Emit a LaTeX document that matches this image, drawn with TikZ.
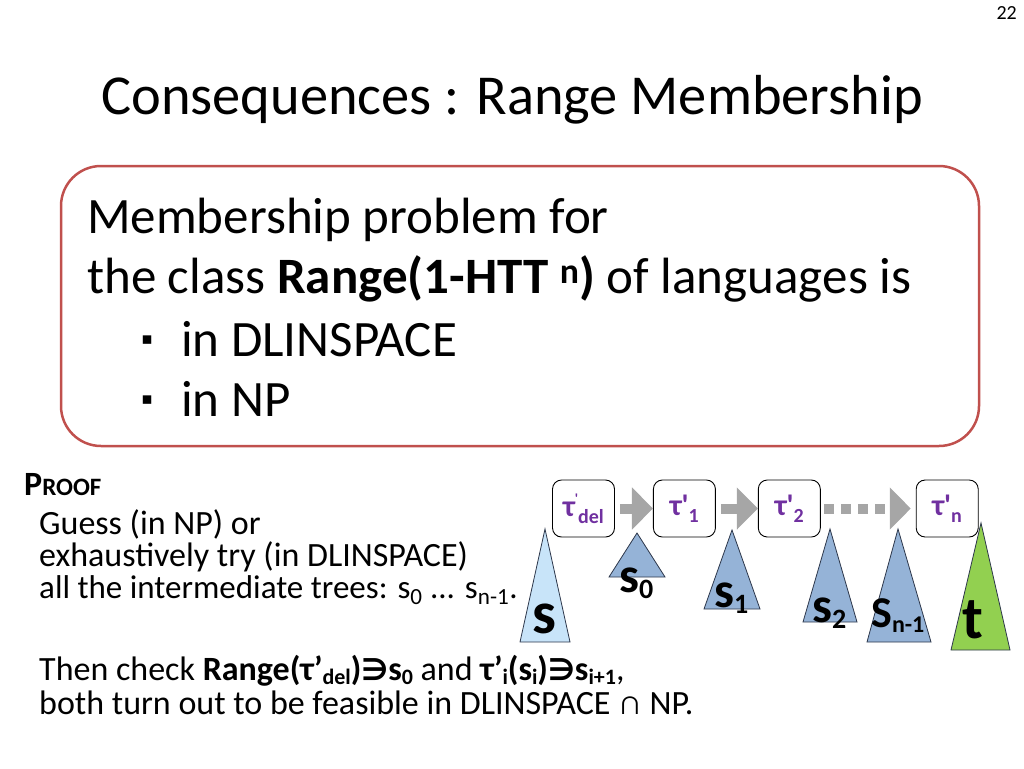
\documentclass[tikz,border=0pt]{standalone}
\usepackage{fontspec}
\setmainfont{Carlito}
\newfontfamily\symfont{DejaVu Sans}
\usetikzlibrary{arrows.meta,positioning}

\definecolor{claimred}{RGB}{192,80,77}
\definecolor{taupurple}{RGB}{112,48,160}
\definecolor{arrowgray}{RGB}{166,166,166}
\definecolor{treeblue}{RGB}{149,179,215}
\definecolor{treelight}{RGB}{200,228,249}
\definecolor{treegreen}{RGB}{146,208,80}
\definecolor{treeedge}{RGB}{45,55,75}

% small helpers for the labels
\newcommand{\tsub}[1]{\raisebox{-6pt}{\fontsize{28}{28}\selectfont #1}}
\newcommand{\tausub}[1]{\raisebox{-7pt}{\fontsize{20}{20}\selectfont #1}}
\newcommand{\tauprime}{\textquotesingle}
\newcommand{\contains}{{\symfont\fontsize{30}{30}\selectfont∋}}
\newcommand{\lsub}[1]{\raisebox{-4pt}{\fontsize{22}{22}\selectfont #1}}

\tikzset{
  txt/.style={anchor=base west, inner sep=0pt, font=\fontsize{34}{40}\selectfont},
  claimtxt/.style={anchor=base west, inner sep=0pt, font=\fontsize{51}{60}\selectfont},
  claim/.style={draw=claimred, line width=2.5pt, rounded corners=40pt,
    minimum width=918pt, minimum height=280pt},
  taubox/.style={draw=black, line width=0.9pt, rounded corners=9pt, fill=white,
    minimum width=62pt, minimum height=57pt, inner sep=0pt, text=taupurple,
    font=\bfseries\fontsize{30}{30}\selectfont},
  blockarrow/.style={draw=arrowgray, line width=10pt,
    -{Triangle[length=21pt,width=41pt]}},
  tree/.style={draw=treeedge, line width=0.8pt},
  treelabel/.style={inner sep=0pt, anchor=base west, font=\bfseries\fontsize{50}{50}\selectfont},
}

\begin{document}
\begin{tikzpicture}[x=1pt, y=-1pt]
\useasboundingbox (0,0) rectangle (1024,768);

% heading
\node[anchor=base east, inner sep=0pt, font=\fontsize{20}{20}\selectfont] (page) at (1017,20) {22};
\node[anchor=base, inner sep=0pt, font=\fontsize{56.4}{64}\selectfont] (title) at (512,114) {Consequences : Range Membership};

% the claim
\node[claim] (claim) at (520,306) {};
\node[claimtxt] (c1) at (87,233) {Membership problem for};
\node[claimtxt] (c2) at (87,293) {the class \textbf{Range(1-HTT \textsuperscript{n})} of languages is};
\node[claimtxt] (c3) at (181,356) {in DLINSPACE};
\node[claimtxt] (c4) at (181,416) {in NP};
\node[anchor=base east, inner sep=0pt, font=\symfont\fontsize{17}{17}\selectfont] (b3) at (153,344) {▪};
\node[anchor=base east, inner sep=0pt, font=\symfont\fontsize{17}{17}\selectfont] (b4) at (153,404) {▪};

% proof text
\node[anchor=base west, inner sep=0pt, font=\bfseries] (proof) at (24,495)
  {{\fontsize{34}{34}\selectfont P}{\fontsize{25}{25}\selectfont ROOF}};
\node[txt] (g1) at (39,534) {Guess (in NP) or};
\node[txt] (g2) at (39,566) {exhaustively try (in DLINSPACE)};
\node[txt, font=\fontsize{33}{40}\selectfont] (g3) at (39,598) {all the intermediate trees: s\textsubscript{0} ... s\textsubscript{n-1}.};
\node[txt] (h1) at (39,680) {Then check \textbf{Range(τ’\lsub{del})\contains s\lsub{0}} and \textbf{τ’\lsub{i}(s\lsub{i})\contains s\lsub{i+1}},};
\node[txt] (h2) at (39,714) {both turn out to be feasible in DLINSPACE ∩ NP.};

% trees
\filldraw[tree, fill=treelight] (545,529) -- (570,642) -- (520,642) -- cycle;
\filldraw[tree, fill=treeblue] (637,533) -- (665,577) -- (609,577) -- cycle;
\filldraw[tree, fill=treeblue] (732,530) -- (760,609) -- (704,609) -- cycle;
\filldraw[tree, fill=treeblue] (830,529) -- (857,622) -- (803,622) -- cycle;
\filldraw[tree, fill=treeblue] (898,529) -- (931,642) -- (867,642) -- cycle;
\filldraw[tree, fill=treegreen] (981,523) -- (1010,650) -- (951,650) -- cycle;

\node[treelabel, font=\bfseries\fontsize{60}{60}\selectfont] (ls) at (532,633) {s};
\node[treelabel] (ls0) at (619,592) {s\tsub{0}};
\node[treelabel] (ls1) at (714,607) {s\tsub{1}};
\node[treelabel] (ls2) at (812,622) {s\tsub{2}};
\node[treelabel, font=\bfseries\fontsize{44}{44}\selectfont] (lsn) at (871,627)
  {S\raisebox{-5pt}{\fontsize{24}{24}\selectfont n-1}};
\node[treelabel, font=\bfseries\fontsize{60}{60}\selectfont] (lt) at (962,638) {t};

% transducers
\node[taubox] (tdel) at (583.5,508.5) {τ\raisebox{13pt}{\fontsize{14}{14}\selectfont\tauprime}\tausub{del}};
\node[taubox, right=38pt of tdel] (t1) {τ\tauprime\tausub{1}};
\node[taubox, right=42pt of t1] (t2) {τ\tauprime\tausub{2}};
\node[taubox, right=95pt of t2] (tn) {τ\tauprime\tausub{n}};

\draw[blockarrow] ([xshift=5pt]tdel.east) -- (t1.west);
\draw[blockarrow] ([xshift=5pt]t1.east) -- (t2.west);
\draw[blockarrow, dash pattern=on 10pt off 7pt] ([xshift=3pt]t2.east) -- ([xshift=-5pt]tn.west);
\end{tikzpicture}
\end{document}
